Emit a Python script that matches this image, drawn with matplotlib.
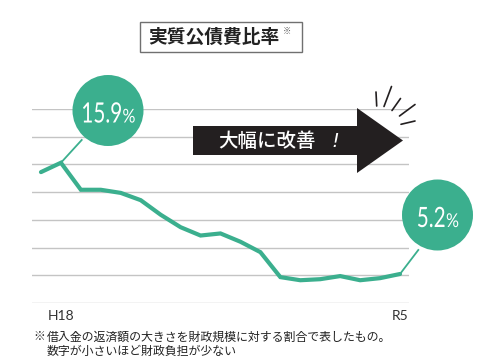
import numpy as np
import matplotlib
matplotlib.use("Agg")
import matplotlib.pyplot as plt
from matplotlib.patches import Circle, Polygon, Rectangle, PathPatch
from matplotlib.textpath import TextPath
from matplotlib.font_manager import FontProperties
from matplotlib.transforms import Affine2D

plt.rcParams["font.family"] = ["Noto Sans CJK JP", "DejaVu Sans"]

# data: 実質公債費比率 (%), H17 .. R5
years = ["H17", "H18", "H19", "H20", "H21", "H22", "H23", "H24", "H25", "H26",
         "H27", "H28", "H29", "H30", "R1", "R2", "R3", "R4", "R5"]
ratio = [15.0, 15.9, 13.3, 13.3, 13.0, 12.3, 10.9, 9.7, 8.9, 9.1,
         8.3, 7.3, 4.9, 4.6, 4.7, 5.0, 4.6, 4.8, 5.2]
shown_ticks = ["H18", "R5"]
callouts = {"H18": "15.9", "R5": "5.2"}

TEAL = "#3BAF8E"
W, H = 490, 362

fig = plt.figure(figsize=(W / 100, H / 100), dpi=100)

# main data axes (pixel box 32..409 x 109..303)
ax = fig.add_axes([32 / W, (H - 303) / H, 377 / W, 194 / H])
x = np.arange(len(years))
ax.plot(x, ratio, color=TEAL, lw=3.0, solid_joinstyle="miter",
        solid_capstyle="round", zorder=3)
ax.set_xlim(-0.45, len(years) - 1 + 0.45)
ymin, ymax = 2.41, 21.07
ax.set_ylim(ymin, ymax)
ax.set_yticks(np.linspace(ymin, ymax, 8))
ax.yaxis.grid(True, color="#c4c4c4", lw=1.0)
ax.set_yticklabels([])
ax.set_xticks([years.index(t) for t in shown_ticks], shown_ticks,
              family=["Lato", "DejaVu Sans"], fontsize=10, color="#333333")
ax.tick_params(length=0, pad=5)
for s in ax.spines.values():
    s.set_visible(False)

# overlay in pixel coordinates for decorations
ov = fig.add_axes([0, 0, 1, 1], zorder=5)
ov.set_xlim(0, W)
ov.set_ylim(H, 0)
ov.axis("off")
ov.patch.set_alpha(0)


def to_px(i, v):
    dx, dy = ax.transData.transform((i, v))
    return dx, H - dy


num_font = FontProperties(family=["Lato", "DejaVu Sans"])


def narrow_path(s, em, xscale):
    tp = TextPath((0, 0), s, size=1, prop=num_font)
    return tp, tp.get_extents().x1 * em * xscale


def narrow_label(cx, base, number):
    # condensed numerals with a smaller % sign, centred on cx
    p1, w1 = narrow_path(number, 28, 0.74)
    p2, w2 = narrow_path("%", 19, 0.85)
    gap = 1.5
    x0 = cx - (w1 + gap + w2) / 2
    t1 = Affine2D().scale(28 * 0.74, -28).translate(x0, base)
    t2 = Affine2D().scale(19 * 0.85, -19).translate(x0 + w1 + gap, base)
    for p, t in ((p1, t1), (p2, t2)):
        ov.add_patch(PathPatch(t.transform_path(p), fc="white", ec="none", zorder=7))


# title box
ov.add_patch(Rectangle((139.5, 21.5), 162, 30, fill=False, ec="#707070", lw=1.0))
ov.text(214, 37.5, "実質公債費比率", ha="center", va="center", fontsize=13.5,
        weight="bold", color="#222222")
ov.text(286.5, 31, "※", ha="center", va="center", fontsize=6, color="#555555")

# arrow
arrow = Polygon([(193, 126), (357, 126), (357, 108), (403, 140.5),
                 (357, 173), (357, 155), (193, 155)], closed=True,
                fc="#231f20", ec="none")
ov.add_patch(arrow)
ov.text(218, 141.5, "大幅に改善", ha="left", va="center", fontsize=14,
        color="white", weight="medium")
ov.text(335, 141.5, "!", ha="center", va="center", fontsize=14,
        color="white", family="DejaVu Sans", style="italic")

# sparkle strokes
for (x0, y0, x1, y1) in [(376, 92, 376.7, 106), (391.5, 86.5, 384, 106.5),
                         (400.5, 98.5, 392, 110.5), (415, 104.5, 399.5, 116),
                         (415, 121, 401, 124.3)]:
    ov.plot([x0, x1], [y0, y1], color="#231f20", lw=1.2, solid_capstyle="round")

# callout bubbles
bubbles = {"H18": ((108, 110.5), (81.7, 140)),
           "R5": ((437.5, 215), (418.3, 250))}
for key, ((cx, cy), (ex, ey)) in bubbles.items():
    i = years.index(key)
    px, py = to_px(i, ratio[i])
    ov.plot([ex, px], [ey, py], color=TEAL, lw=1.3)
    ov.add_patch(Circle((cx, cy), 35.5, fc=TEAL, ec="none"))
    narrow_label(cx, cy + 12, callouts[key])

# footnote
ov.text(33, 337, "※", ha="left", va="center", fontsize=8.5, color="#222222")
ov.text(46.5, 337, "借入金の返済額の大きさを財政規模に対する割合で表したもの。",
        ha="left", va="center", fontsize=8.6, color="#222222")
ov.text(46.5, 351, "数字が小さいほど財政負担が少ない",
        ha="left", va="center", fontsize=8.6, color="#222222")

fig.savefig("out.png", dpi=100)
